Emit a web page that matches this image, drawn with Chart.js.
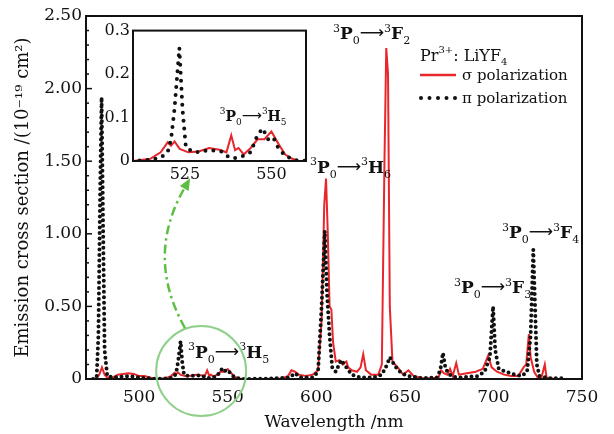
<!DOCTYPE html>
<html>
<head>
<meta charset="utf-8">
<script src="https://cdn.jsdelivr.net/npm/chart.js@4/dist/chart.umd.min.js"></script>
<style>
  body { margin: 0; background: #fff; }
  #wrap { position: relative; width: 614px; height: 434px; }
  #main { position: absolute; left: 0; top: 0; }
  #inset { position: absolute; left: 90px; top: 18px; }
</style>
</head>
<body>
<div id="wrap">
  <canvas id="main" width="614" height="434"></canvas>
  <canvas id="inset" width="225" height="170"></canvas>
</div>
<script>
// sigma polarization (red, solid)
const sigmaNm = [474, 476, 477.5, 479, 480.5, 482, 485, 488, 491, 494, 497, 500, 503, 506, 510,
  515, 518, 520, 521, 522, 523.5, 526, 529, 532, 535, 537, 538.4, 539.5, 540.5, 542, 544, 546, 548, 550, 552, 554, 556, 558,
  570, 580, 584, 586, 588, 590, 594, 598, 601, 603, 604.5, 605.5, 606.5, 607.5, 608.5, 609.5, 611, 613, 615, 617, 618, 620,
  623, 625, 626.5, 628, 631, 635, 637, 638.5, 639.5, 640.5, 641.5, 643, 646, 649, 652, 655, 660, 665, 669, 670.5, 672,
  674, 675.5, 677, 679, 680.5, 685, 690, 694, 697, 699, 702, 706, 710, 714, 717, 718.5, 720, 721, 723, 725, 727, 729, 730, 735, 740];
const sigmaVal = [0, 0.005, 0.03, 0.08, 0.03, 0.01, 0.01, 0.03, 0.035, 0.04, 0.035, 0.02, 0.02, 0.01, 0,
  0.005, 0.02, 0.043, 0.035, 0.045, 0.028, 0.02, 0.022, 0.03, 0.026, 0.02, 0.059, 0.025, 0.03, 0.015, 0.03, 0.05, 0.05, 0.068, 0.04, 0.015, 0.005, 0,
  0, 0.003, 0.02, 0.06, 0.05, 0.03, 0.02, 0.03, 0.06, 0.4, 1.2, 1.38, 1.0, 0.5, 0.48, 0.25, 0.12, 0.13, 0.1, 0.12, 0.08, 0.06,
  0.05, 0.08, 0.17, 0.06, 0.03, 0.03, 0.1, 1.5, 2.28, 2.1, 0.5, 0.12, 0.08, 0.03, 0.06, 0.02, 0.005, 0.005, 0.01, 0.06, 0.04,
  0.03, 0.07, 0.02, 0.11, 0.03, 0.04, 0.05, 0.07, 0.16, 0.08, 0.05, 0.03, 0.02, 0.02, 0.08, 0.1, 0.31, 0.15, 0.05, 0.01, 0.005, 0.1, 0.01, 0, 0];

// pi polarization (black, dotted)
const piNm = [474, 476, 477, 478, 478.8, 479.5, 480.5, 482, 486, 490, 495, 500, 505, 510,
  515, 518, 520, 521, 522, 523.4, 524.3, 525.3, 528, 532, 535.5, 538, 540, 542, 544, 546, 547.5, 549, 550.5, 552, 554, 557, 560,
  575, 585, 588, 591, 598, 601, 603, 604.8, 606, 607.5, 609, 611, 614, 617, 620, 625, 632, 637, 640, 641.5, 643, 645, 648, 652,
  660, 668, 670, 671.5, 673, 676, 680, 686, 691, 695, 698, 699.8, 701, 703, 707, 712, 716, 719, 721, 722.5, 723.5, 724.5, 726, 732, 740];
const piVal = [0, 0.01, 0.3, 1.3, 1.94, 1.2, 0.2, 0.02, 0.01, 0.015, 0.02, 0.01, 0.005, 0,
  0.003, 0.008, 0.02, 0.05, 0.12, 0.26, 0.12, 0.03, 0.02, 0.025, 0.022, 0.007, 0.007, 0.012, 0.02, 0.06, 0.075, 0.05, 0.055, 0.03, 0.012, 0.002, 0,
  0.003, 0.01, 0.04, 0.01, 0.01, 0.05, 0.5, 1.02, 0.6, 0.3, 0.08, 0.05, 0.13, 0.08, 0.03, 0.01, 0.01, 0.03, 0.1, 0.15, 0.12, 0.08, 0.04, 0.02,
  0.005, 0.01, 0.06, 0.18, 0.07, 0.02, 0.01, 0.015, 0.02, 0.05, 0.15, 0.5, 0.2, 0.07, 0.05, 0.03, 0.02, 0.05, 0.3, 0.89, 0.5, 0.1, 0.02, 0.005, 0.005];

const xTicks = [500, 550, 600, 650, 700, 750];
const yTicks = [0, 0.5, 1.0, 1.5, 2.0, 2.5];
const insetXTicks = [525, 550];
const insetYTicks = [0, 0.1, 0.2, 0.3];

// transition labels: [nm, value, final state letter, index]
const mainLabels = [
  [609.4, 2.34, "F", "2"],
  [596.4, 1.42, "H", "6"],
  [677.7, 0.59, "F", "3"],
  [704.8, 0.97, "F", "4"],
  [527.6, 0.145, "H", "5"]
];
const insetLabels = [
  [535.1, 0.093, "H", "5"]
];

const RED = "#e8262b";
const BLACK = "#111111";
const SERIF = "'DejaVu Serif', serif";

function toXY(xs, ys) {
  return xs.map((x, i) => ({ x: x, y: ys[i] }));
}

function drawTransition(ctx, x, y, letter, idx, size) {
  const small = Math.round(size * 0.62);
  ctx.save();
  ctx.fillStyle = BLACK;
  ctx.textBaseline = "alphabetic";
  ctx.textAlign = "left";
  const put = (txt, font, dy) => {
    ctx.font = font;
    ctx.fillText(txt, x, y + dy);
    x += ctx.measureText(txt).width;
  };
  put("3", small + "px " + SERIF, -size * 0.45);
  put("P", "bold " + size + "px " + SERIF, 0);
  put("0", small + "px " + SERIF, size * 0.3);
  put("\u27F6", size + "px 'DejaVu Sans', sans-serif", -size * 0.05);
  put("3", small + "px " + SERIF, -size * 0.45);
  put(letter, "bold " + size + "px " + SERIF, 0);
  put(idx, small + "px " + SERIF, size * 0.3);
  ctx.restore();
}

const framePlugin = {
  id: "frame",
  beforeDraw(chart, args, opts) {
    const a = chart.chartArea;
    if (opts.fill) {
      chart.ctx.save();
      chart.ctx.fillStyle = "#fff";
      chart.ctx.fillRect(a.left, a.top, a.right - a.left, a.bottom - a.top);
      chart.ctx.restore();
    }
  },
  afterDraw(chart) {
    const a = chart.chartArea;
    const ctx = chart.ctx;
    ctx.save();
    ctx.strokeStyle = BLACK;
    ctx.lineWidth = 2;
    ctx.strokeRect(a.left, a.top, a.right - a.left, a.bottom - a.top);
    ctx.restore();
  }
};

const innerTicksPlugin = {
  id: "innerTicks",
  afterDraw(chart, args, opts) {
    if (!opts.on) return;
    const ctx = chart.ctx;
    const y = chart.scales.y;
    const left = chart.chartArea.left;
    ctx.save();
    ctx.strokeStyle = BLACK;
    ctx.lineWidth = 1.5;
    for (let i = 0; i <= 25; i++) {
      const py = y.getPixelForValue(i / 10);
      const len = i % 5 === 0 ? 6 : 3;
      ctx.beginPath();
      ctx.moveTo(left, py);
      ctx.lineTo(left + len, py);
      ctx.stroke();
    }
    ctx.restore();
  }
};

const labelsPlugin = {
  id: "transLabels",
  afterDatasetsDraw(chart, args, opts) {
    const ctx = chart.ctx;
    const xs = chart.scales.x, ys = chart.scales.y;
    opts.items.forEach(l => {
      drawTransition(ctx, xs.getPixelForValue(l[0]), ys.getPixelForValue(l[1]), l[2], l[3], opts.size);
    });
  }
};

const legendPlugin = {
  id: "customLegend",
  afterDraw(chart, args, opts) {
    if (!opts.on) return;
    const ctx = chart.ctx;
    ctx.save();
    ctx.fillStyle = BLACK;
    ctx.textBaseline = "alphabetic";
    let x = 420;
    ctx.font = "16px " + SERIF;
    ctx.fillText("Pr", x, 61); x += ctx.measureText("Pr").width;
    ctx.font = "10px " + SERIF;
    ctx.fillText("3+", x, 53); x += ctx.measureText("3+").width;
    ctx.font = "16px " + SERIF;
    ctx.fillText(": LiYF", x, 61); x += ctx.measureText(": LiYF").width;
    ctx.font = "10px " + SERIF;
    ctx.fillText("4", x, 65);

    ctx.strokeStyle = RED;
    ctx.lineWidth = 2.5;
    ctx.beginPath();
    ctx.moveTo(420, 75);
    ctx.lineTo(456, 75);
    ctx.stroke();
    ctx.font = "15px " + SERIF;
    ctx.fillText("\u03C3 polarization", 462, 80);

    ctx.fillStyle = BLACK;
    for (let i = 0; i < 5; i++) {
      ctx.beginPath();
      ctx.arc(421 + i * 8.5, 98, 2, 0, Math.PI * 2);
      ctx.fill();
    }
    ctx.fillText("\u03C0 polarization", 462, 103);
    ctx.restore();
  }
};

const zoomMarkPlugin = {
  id: "zoomMark",
  afterDraw(chart, args, opts) {
    if (!opts.on) return;
    const ctx = chart.ctx;
    const xs = chart.scales.x, ys = chart.scales.y;
    const cx = xs.getPixelForValue(535), cy = ys.getPixelForValue(0.055);
    ctx.save();
    ctx.strokeStyle = "#8fd08a";
    ctx.lineWidth = 2;
    ctx.beginPath();
    ctx.arc(cx, cy, 45, 0, Math.PI * 2);
    ctx.stroke();

    const p0 = [xs.getPixelForValue(525.9), ys.getPixelForValue(0.351)];
    const pc = [xs.getPixelForValue(503.3), ys.getPixelForValue(0.84)];
    const p1 = [xs.getPixelForValue(528.8), ys.getPixelForValue(1.383)];
    const ang = Math.atan2(p1[1] - pc[1], p1[0] - pc[0]);
    const head = 12;
    const bx = p1[0] - head * Math.cos(ang), by = p1[1] - head * Math.sin(ang);
    ctx.strokeStyle = "#5cbf44";
    ctx.lineWidth = 2.5;
    ctx.setLineDash([9, 4, 2.5, 4]);
    ctx.beginPath();
    ctx.moveTo(p0[0], p0[1]);
    ctx.quadraticCurveTo(pc[0], pc[1], bx, by);
    ctx.stroke();
    ctx.setLineDash([]);
    ctx.fillStyle = "#5cbf44";
    ctx.beginPath();
    ctx.moveTo(p1[0], p1[1]);
    ctx.lineTo(bx + 5 * Math.sin(ang), by - 5 * Math.cos(ang));
    ctx.lineTo(bx - 5 * Math.sin(ang), by + 5 * Math.cos(ang));
    ctx.closePath();
    ctx.fill();
    ctx.restore();
  }
};

function makeDatasets(dotGap) {
  return [
    {
      label: "\u03C3 polarization",
      data: toXY(sigmaNm, sigmaVal),
      borderColor: RED,
      borderWidth: 2,
      pointRadius: 0,
      tension: 0,
      fill: false
    },
    {
      label: "\u03C0 polarization",
      data: toXY(piNm, piVal),
      borderColor: BLACK,
      borderWidth: 4,
      borderDash: [0, dotGap],
      borderCapStyle: "round",
      pointRadius: 0,
      tension: 0,
      fill: false
    }
  ];
}

Chart.defaults.font.family = SERIF;
Chart.defaults.color = BLACK;

new Chart(document.getElementById("main"), {
  type: "line",
  data: { datasets: makeDatasets(5.5).reverse() },
  options: {
    responsive: false,
    animation: false,
    layout: { padding: { left: 0, right: 32, top: 16, bottom: 0 } },
    plugins: {
      legend: { display: false },
      tooltip: { enabled: false },
      innerTicks: { on: true },
      transLabels: { items: mainLabels, size: 17 },
      customLegend: { on: true },
      zoomMark: { on: true },
      frame: { fill: false }
    },
    scales: {
      x: {
        type: "linear",
        min: 470,
        max: 750,
        afterBuildTicks: s => { s.ticks = xTicks.map(v => ({ value: v })); },
        afterFit: s => { s.height = 55; },
        grid: { display: false, drawTicks: false },
        border: { display: false },
        ticks: { padding: 8, font: { size: 17 }, color: BLACK },
        title: { display: true, text: "Wavelength /nm", font: { size: 17 }, padding: { top: 0, bottom: 1 }, color: BLACK }
      },
      y: {
        min: 0,
        max: 2.5,
        afterBuildTicks: s => { s.ticks = yTicks.map(v => ({ value: v })); },
        afterFit: s => { s.width = 86; },
        grid: { display: false, drawTicks: false },
        border: { display: false },
        ticks: { padding: 4, font: { size: 17 }, color: BLACK, callback: v => v === 0 ? "0" : v.toFixed(2) },
        title: { display: true, text: "Emission cross section /(10\u207B\u00B9\u2079 cm\u00B2)", font: { size: 18 }, padding: { top: 13, bottom: 0 }, color: BLACK }
      }
    }
  },
  plugins: [framePlugin, innerTicksPlugin, labelsPlugin, legendPlugin, zoomMarkPlugin]
});

new Chart(document.getElementById("inset"), {
  type: "line",
  data: { datasets: makeDatasets(8).reverse() },
  options: {
    responsive: false,
    animation: false,
    layout: { padding: { left: 0, right: 9, top: 11, bottom: 0 } },
    plugins: {
      legend: { display: false },
      tooltip: { enabled: false },
      innerTicks: { on: false },
      transLabels: { items: insetLabels, size: 14 },
      customLegend: { on: false },
      zoomMark: { on: false },
      frame: { fill: true }
    },
    scales: {
      x: {
        type: "linear",
        min: 510,
        max: 560,
        afterBuildTicks: s => { s.ticks = insetXTicks.map(v => ({ value: v })); },
        afterFit: s => { s.height = 27; },
        grid: { display: false, drawTicks: false },
        border: { display: false },
        ticks: { padding: 4, font: { size: 16 }, color: BLACK }
      },
      y: {
        min: 0,
        max: 0.3,
        afterBuildTicks: s => { s.ticks = insetYTicks.map(v => ({ value: v })); },
        afterFit: s => { s.width = 43; },
        grid: { display: false, drawTicks: false },
        border: { display: false },
        ticks: { padding: 3, font: { size: 16 }, color: BLACK, callback: v => v === 0 ? "0" : v.toFixed(1) }
      }
    }
  },
  plugins: [framePlugin, labelsPlugin]
});
</script>
</body>
</html>
